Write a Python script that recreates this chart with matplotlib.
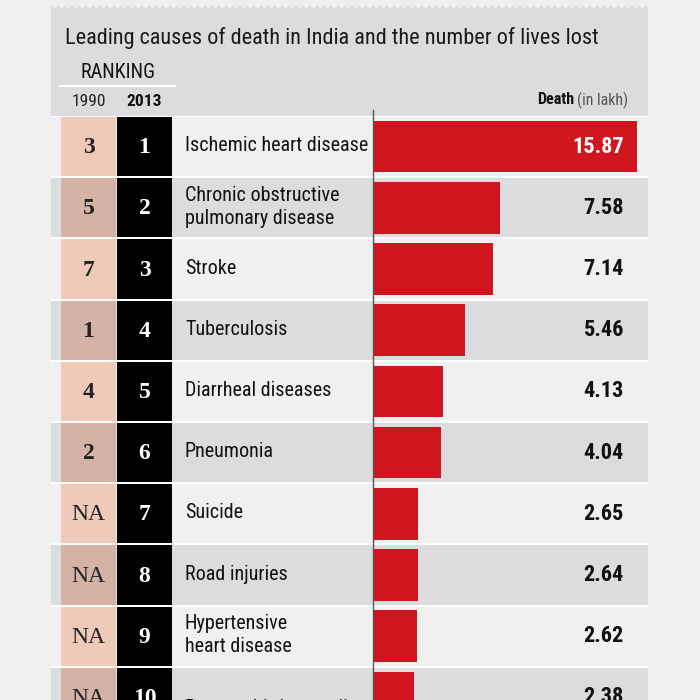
import matplotlib
matplotlib.use("Agg")
import matplotlib.pyplot as plt
from matplotlib.patches import Rectangle, Polygon
from matplotlib.transforms import blended_transform_factory
import numpy as np

# ---- data ----
rank_1990 = ["3", "5", "7", "1", "4", "2", "NA", "NA", "NA", "NA"]
rank_2013 = ["1", "2", "3", "4", "5", "6", "7", "8", "9", "10"]
causes = ["Ischemic heart disease", "Chronic obstructive\npulmonary disease", "Stroke",
          "Tuberculosis", "Diarrheal diseases", "Pneumonia", "Suicide", "Road injuries",
          "Hypertensive\nheart disease", "Preterm birth complications"]
deaths = [15.87, 7.58, 7.14, 5.46, 4.13, 4.04, 2.65, 2.64, 2.62, 2.38]
title = "Leading causes of death in India and the number of lives lost"

NARROW = ["Liberation Sans Narrow", "Roboto Condensed", "DejaVu Sans"]
SERIF = ["Liberation Serif", "DejaVu Serif"]

PAGE = "#efefef"
HEAD = "#dcdcde"
LIGHT = "#f0f0f0"
GREY = "#dcdcde"
PEACH_L = "#efcab9"
PEACH_D = "#d5b2a6"
RED = "#d0151f"

fig = plt.figure(figsize=(7, 7), dpi=100, facecolor=PAGE)
ax = fig.add_axes([0, 0, 1, 1])
ax.set_xlim(0, 700)
ax.set_ylim(700, 0)
ax.axis("off")

PL, PR = 51, 648
TOP0, PITCH = 116, 61.2

# header panel with zigzag top
xs = np.arange(PL, PR + 1, 3.5)
top = [(x, 5 if k % 2 == 0 else 9) for k, x in enumerate(xs)]
poly = top + [(PR, 9), (PR, TOP0), (PL, TOP0)]
ax.add_patch(Polygon(poly, closed=True, facecolor=HEAD, edgecolor="none"))

# rows area base (white separators)
ax.add_patch(Rectangle((PL, TOP0), PR - PL, 700 - TOP0, facecolor="white", edgecolor="none"))

for i in range(len(causes)):
    y0 = TOP0 + i * PITCH + 1
    h = PITCH - 2
    bg = LIGHT if i % 2 == 0 else GREY
    ax.add_patch(Rectangle((PL, y0), PR - PL, h, facecolor=bg, edgecolor="none"))
    ax.add_patch(Rectangle((61, y0), 55, h, facecolor=PEACH_L if i % 2 == 0 else PEACH_D, edgecolor="none"))
    ax.add_patch(Rectangle((117, y0), 55, h, facecolor="black", edgecolor="none"))
    yc = TOP0 + (i + 0.5) * PITCH
    is_na = rank_1990[i] == "NA"
    ax.text(88.5, yc + 1, rank_1990[i], family=SERIF, fontsize=17, color="#222222",
            ha="center", va="center", fontweight="normal" if is_na else "bold")
    ax.text(144.5, yc + 1, rank_2013[i], family=SERIF, fontsize=17, color="white",
            ha="center", va="center", fontweight="bold")
    if i == len(causes) - 1:
        ax.text(185, yc + 2, causes[i], family=NARROW, fontsize=14.5, color="#111111",
                ha="left", va="top")
    else:
        ax.text(185, yc - 1, causes[i], family=NARROW, fontsize=14.5, color="#111111",
                ha="left", va="center", linespacing=1.3)

# header texts
ax.text(65, 38, title, family=NARROW, fontsize=16, color="#1a1a1a", ha="left", va="center")
ax.text(118, 72, "RANKING", family=NARROW, fontsize=14.5, color="#111111", ha="center", va="center")
ax.plot([60, 175], [86, 86], color="white", lw=1.5)
ax.text(89, 101, "1990", family=NARROW, fontsize=12.5, color="#222222", ha="center", va="center")
ax.text(144, 101, "2013", family=NARROW, fontsize=12.5, color="#111111", ha="center", va="center",
        fontweight="bold")
ax.text(628, 100, "(in lakh)", family=NARROW, fontsize=11.5, color="#555555", ha="right", va="center")
ax.text(574, 100, "Death", family=NARROW, fontsize=11.5, color="#111111", ha="right", va="center",
        fontweight="bold")

# vertical axis line
ax.plot([373, 373], [110, 700], color="#555555", lw=1)

# ---- bars ----
px_per_unit = 16.6
bx0 = 374
bax = fig.add_axes([bx0 / 700, 0, (PR - bx0) / 700, (700 - TOP0) / 700])
bax.patch.set_alpha(0)
nrows_vis = (700 - TOP0) / PITCH
bax.set_ylim(nrows_vis - 0.5, -0.5)
bax.set_xlim(0, (PR - bx0) / px_per_unit)
bax.axis("off")
ypos = np.arange(len(deaths))
bax.barh(ypos, deaths, height=0.84, color=RED, edgecolor="none")
tr = blended_transform_factory(bax.transAxes, bax.transData)
for i, v in enumerate(deaths):
    bax.text((624 - bx0) / (PR - bx0), i, f"{v:.2f}", transform=tr, ha="right", va="center",
             family=NARROW, fontsize=16, fontweight="bold",
             color="white" if i == 0 else "#111111")

fig.savefig("out.png", dpi=100, facecolor=PAGE)
